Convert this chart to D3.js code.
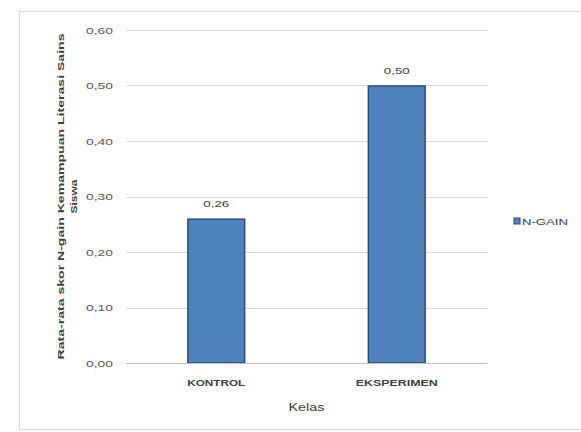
<!DOCTYPE html>
<html>
<head>
<meta charset="utf-8">
<script src="https://cdn.jsdelivr.net/npm/d3@7"></script>
<style>
  html, body { margin: 0; padding: 0; background: #ffffff; }
  svg { display: block; }
  text { font-family: "Liberation Sans", Arial, sans-serif; }
</style>
</head>
<body>
<svg id="chart" width="581" height="432"></svg>
<script>
// N-gain per class
const categories = ["KONTROL", "EKSPERIMEN"];
const nGain = [0.26, 0.50];
const valueLabels = ["0,26", "0,50"];
const yTicks = [0, 0.1, 0.2, 0.3, 0.4, 0.5, 0.6];
const yTickLabels = ["0,00", "0,10", "0,20", "0,30", "0,40", "0,50", "0,60"];
const seriesName = "N-GAIN";
const xTitle = "Kelas";
const yTitleLines = ["Rata-rata skor N-gain Kemampuan Literasi Sains", "Siswa"];

const svg = d3.select("#chart");

// chart frame
svg.append("rect")
  .attr("x", 19.5).attr("y", 11.5)
  .attr("width", 570).attr("height", 418)
  .attr("fill", "#ffffff")
  .attr("stroke", "#d9d9d9").attr("stroke-width", 1.2);

const plot = { left: 126, right: 487, top: 30, bottom: 363 };

const x = d3.scaleBand()
  .domain(categories)
  .range([plot.left, plot.right])
  .paddingInner(0.68)
  .paddingOuter(0.34);

const y = d3.scaleLinear()
  .domain([0, 0.6])
  .range([plot.bottom, plot.top]);

// horizontal gridlines
svg.append("g")
  .selectAll("line")
  .data(yTicks.filter(d => d > 0))
  .join("line")
  .attr("x1", plot.left).attr("x2", plot.right)
  .attr("y1", d => Math.round(y(d)) + 0.5)
  .attr("y2", d => Math.round(y(d)) + 0.5)
  .attr("stroke", "#d9d9d9").attr("stroke-width", 1);

// y axis labels
const yAxis = d3.axisLeft(y)
  .tickValues(yTicks)
  .tickSize(0)
  .tickPadding(0)
  .tickFormat((d, i) => yTickLabels[i]);

const gy = svg.append("g")
  .attr("transform", `translate(${plot.left - 13},0)`)
  .call(yAxis);
gy.select(".domain").remove();
gy.selectAll("text")
  .attr("font-size", 9.5)
  .attr("fill", "#595959")
  .attr("textLength", 27)
  .attr("lengthAdjust", "spacingAndGlyphs");

// bars
svg.append("g")
  .selectAll("rect")
  .data(nGain)
  .join("rect")
  .attr("x", (d, i) => x(categories[i]) + 0.5)
  .attr("y", d => y(d) + 0.5)
  .attr("width", x.bandwidth() - 1)
  .attr("height", d => plot.bottom - y(d) - 0.5)
  .attr("fill", "#4f81bd")
  .attr("stroke", "#2c4d75").attr("stroke-width", 1.5);

// baseline
svg.append("line")
  .attr("x1", plot.left).attr("x2", plot.right)
  .attr("y1", plot.bottom + 0.5).attr("y2", plot.bottom + 0.5)
  .attr("stroke", "#bfbfbf").attr("stroke-width", 1);

// value labels
svg.append("g")
  .selectAll("text")
  .data(nGain)
  .join("text")
  .attr("x", (d, i) => x(categories[i]) + x.bandwidth() / 2)
  .attr("y", d => y(d) - 12)
  .attr("text-anchor", "middle")
  .attr("font-size", 9.5)
  .attr("fill", "#404040")
  .attr("textLength", 26)
  .attr("lengthAdjust", "spacingAndGlyphs")
  .text((d, i) => valueLabels[i]);

// x axis labels
const xAxis = d3.axisBottom(x).tickSize(0).tickPadding(0);
const gx = svg.append("g")
  .attr("transform", `translate(0,${plot.bottom + 23})`)
  .call(xAxis);
gx.select(".domain").remove();
gx.selectAll("text")
  .attr("dy", 0)
  .attr("font-size", 9.5)
  .attr("font-weight", "bold")
  .attr("fill", "#404040")
  .attr("textLength", d => d === "KONTROL" ? 58 : 82)
  .attr("lengthAdjust", "spacingAndGlyphs");

// x title
svg.append("text")
  .attr("x", (plot.left + plot.right) / 2)
  .attr("y", 411)
  .attr("text-anchor", "middle")
  .attr("font-size", 11)
  .attr("fill", "#404040")
  .attr("textLength", 36)
  .attr("lengthAdjust", "spacingAndGlyphs")
  .text(xTitle);

// y title, two lines
const yMid = (plot.top + plot.bottom) / 2;
const yTitle = svg.append("text")
  .attr("transform", `translate(64,${yMid}) rotate(-90)`)
  .attr("text-anchor", "middle")
  .attr("font-size", 9.5)
  .attr("font-weight", "bold")
  .attr("fill", "#404040");
yTitle.append("tspan")
  .attr("x", 0).attr("y", 0)
  .attr("textLength", 326)
  .attr("lengthAdjust", "spacingAndGlyphs")
  .text(yTitleLines[0]);
yTitle.append("tspan")
  .attr("x", 0).attr("y", 13)
  .attr("textLength", 34)
  .attr("lengthAdjust", "spacingAndGlyphs")
  .text(yTitleLines[1]);

// legend
const legend = svg.append("g").attr("transform", "translate(514,221)");
legend.append("rect")
  .attr("x", 0).attr("y", -3)
  .attr("width", 6).attr("height", 6)
  .attr("fill", "#4f81bd")
  .attr("stroke", "#2c4d75").attr("stroke-width", 1);
legend.append("text")
  .attr("x", 8).attr("y", 3.5)
  .attr("font-size", 9)
  .attr("fill", "#404040")
  .attr("textLength", 46)
  .attr("lengthAdjust", "spacingAndGlyphs")
  .text(seriesName);
</script>
</body>
</html>
